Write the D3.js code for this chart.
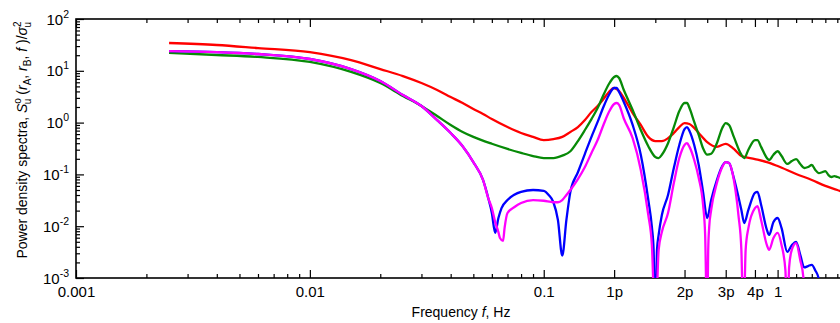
<!DOCTYPE html>
<html>
<head>
<meta charset="utf-8">
<script src="https://cdn.jsdelivr.net/npm/d3@7"></script>
<style>
  body { margin: 0; background: #fff; }
  svg { display: block; font-family: "Liberation Sans", Arial, sans-serif; }
</style>
</head>
<body>
<div id="chart"></div>
<script>
// spectra (frequency in Hz, normalised PSD)
var freqRed = [0.0025, 0.004, 0.006, 0.01, 0.015, 0.02, 0.025, 0.03, 0.035, 0.04, 0.045, 0.05, 0.055, 0.06, 0.07, 0.08, 0.09, 0.1, 0.11, 0.12, 0.13, 0.14, 0.15, 0.16, 0.17, 0.18, 0.19, 0.2, 0.21, 0.22, 0.24, 0.26, 0.28, 0.3, 0.32, 0.34, 0.36, 0.38, 0.4, 0.42, 0.44, 0.46, 0.5, 0.55, 0.6, 0.65, 0.7, 0.8, 0.9, 1.0, 1.2, 1.4, 1.6, 1.8, 2.0];
var psdRed = [34.4, 31.5, 27.5, 23, 16.1, 10.8, 7.9, 5.8, 4.26, 3.12, 2.39, 1.83, 1.47, 1.17, 0.82, 0.63, 0.53, 0.46, 0.48, 0.53, 0.66, 0.82, 1.12, 1.6, 2.09, 2.85, 3.9, 4.66, 4.07, 3.0, 1.53, 0.9, 0.53, 0.44, 0.44, 0.5, 0.63, 0.82, 0.98, 0.94, 0.79, 0.63, 0.42, 0.34, 0.39, 0.31, 0.226, 0.198, 0.173, 0.145, 0.102, 0.078, 0.06, 0.05, 0.042];

var freqGreen = [0.0025, 0.004, 0.006, 0.01, 0.015, 0.02, 0.025, 0.03, 0.035, 0.04, 0.045, 0.05, 0.06, 0.07, 0.08, 0.09, 0.1, 0.11, 0.12, 0.13, 0.14, 0.15, 0.16, 0.17, 0.18, 0.19, 0.2, 0.205, 0.21, 0.22, 0.24, 0.26, 0.28, 0.3, 0.31, 0.32, 0.34, 0.36, 0.38, 0.4, 0.41, 0.42, 0.44, 0.46, 0.48, 0.5, 0.52, 0.55, 0.58, 0.6, 0.62, 0.65, 0.7, 0.72, 0.75, 0.8, 0.82, 0.85, 0.9, 0.92, 0.96, 1.0, 1.04, 1.1, 1.15, 1.2, 1.25, 1.3, 1.35, 1.4, 1.45, 1.5, 1.55, 1.6, 1.65, 1.7, 1.75, 1.8, 1.9, 2.0];
var psdGreen = [22.1, 20.2, 18.5, 14.8, 9.5, 5.8, 3.27, 2.09, 1.34, 0.9, 0.66, 0.53, 0.39, 0.31, 0.26, 0.226, 0.207, 0.207, 0.23, 0.28, 0.44, 0.72, 1.17, 1.91, 3.41, 5.56, 7.59, 7.94, 7.26, 4.26, 1.75, 0.72, 0.35, 0.217, 0.207, 0.24, 0.4, 0.82, 1.67, 2.39, 2.39, 1.91, 1.03, 0.58, 0.32, 0.24, 0.25, 0.4, 0.79, 0.98, 0.9, 0.53, 0.24, 0.207, 0.3, 0.46, 0.46, 0.34, 0.207, 0.19, 0.24, 0.28, 0.226, 0.159, 0.181, 0.198, 0.159, 0.133, 0.139, 0.152, 0.122, 0.106, 0.11, 0.116, 0.097, 0.089, 0.093, 0.089, 0.082, 0.075];

var freqBlue = [0.0025, 0.004, 0.006, 0.01, 0.015, 0.02, 0.025, 0.03, 0.035, 0.04, 0.045, 0.05, 0.055, 0.058, 0.06, 0.062, 0.064, 0.066, 0.07, 0.08, 0.09, 0.1, 0.105, 0.11, 0.115, 0.12, 0.125, 0.13, 0.14, 0.15, 0.16, 0.17, 0.18, 0.19, 0.2, 0.205, 0.21, 0.22, 0.24, 0.26, 0.28, 0.29, 0.295, 0.3, 0.305, 0.31, 0.32, 0.34, 0.36, 0.38, 0.4, 0.41, 0.42, 0.44, 0.46, 0.48, 0.5, 0.52, 0.55, 0.58, 0.6, 0.62, 0.65, 0.7, 0.72, 0.75, 0.8, 0.82, 0.85, 0.9, 0.92, 0.96, 1.0, 1.04, 1.1, 1.15, 1.2, 1.25, 1.3, 1.35, 1.4, 1.45, 1.5, 1.55];
var psdBlue = [24, 23, 21.1, 16.9, 10.8, 6.36, 3.41, 2.09, 1.12, 0.63, 0.35, 0.173, 0.078, 0.034, 0.018, 0.0074, 0.0144, 0.0224, 0.032, 0.046, 0.05, 0.048, 0.04, 0.029, 0.0132, 0.0027, 0.0132, 0.046, 0.11, 0.25, 0.53, 1.03, 2.0, 3.41, 4.66, 4.66, 3.9, 2.5, 0.9, 0.24, 0.032, 0.0097, 0.0035, 0.0001, 0.0035, 0.0068, 0.0164, 0.04, 0.133, 0.37, 0.75, 0.82, 0.69, 0.37, 0.152, 0.046, 0.0144, 0.032, 0.078, 0.145, 0.173, 0.166, 0.085, 0.0206, 0.0115, 0.0206, 0.044, 0.046, 0.026, 0.0085, 0.0068, 0.012, 0.0144, 0.0092, 0.0032, 0.0043, 0.005, 0.0028, 0.0016, 0.0017, 0.0018, 0.0014, 0.00096, 0.0001];

var freqMagenta = [0.0025, 0.004, 0.006, 0.01, 0.015, 0.02, 0.025, 0.03, 0.035, 0.04, 0.045, 0.05, 0.055, 0.058, 0.06, 0.062, 0.064, 0.065, 0.067, 0.068, 0.07, 0.075, 0.08, 0.09, 0.1, 0.11, 0.115, 0.12, 0.125, 0.13, 0.14, 0.15, 0.16, 0.17, 0.18, 0.19, 0.2, 0.205, 0.21, 0.22, 0.24, 0.26, 0.28, 0.29, 0.3, 0.31, 0.32, 0.34, 0.36, 0.38, 0.4, 0.41, 0.42, 0.44, 0.46, 0.48, 0.49, 0.5, 0.505, 0.51, 0.52, 0.55, 0.58, 0.6, 0.62, 0.65, 0.68, 0.7, 0.715, 0.73, 0.75, 0.8, 0.82, 0.85, 0.9, 0.92, 0.96, 1.0, 1.04, 1.08, 1.1, 1.12, 1.15, 1.2, 1.25, 1.29, 1.3];
var psdMagenta = [24, 23, 21.1, 16.9, 10.8, 6.36, 3.41, 2.09, 1.12, 0.63, 0.35, 0.173, 0.078, 0.034, 0.0224, 0.012, 0.0077, 0.0059, 0.0052, 0.0092, 0.018, 0.0235, 0.028, 0.032, 0.031, 0.029, 0.029, 0.032, 0.04, 0.05, 0.081, 0.139, 0.26, 0.46, 0.9, 1.6, 2.29, 2.39, 2.19, 1.2, 0.5, 0.122, 0.0164, 0.0043, 0.0001, 0.0035, 0.0077, 0.018, 0.068, 0.207, 0.37, 0.4, 0.34, 0.19, 0.085, 0.026, 0.0068, 0.0001, 0.0035, 0.0097, 0.0206, 0.068, 0.139, 0.173, 0.166, 0.078, 0.0164, 0.0035, 0.0001, 0.0035, 0.0092, 0.0224, 0.0245, 0.0132, 0.0043, 0.0035, 0.0059, 0.0074, 0.0043, 0.0014, 0.0001, 0.0016, 0.0035, 0.0047, 0.0022, 0.001, 0.0001];

// axis ticks
var xLabelVals = [0.001, 0.01, 0.1, 0.2, 0.4, 0.6, 0.8, 1];
var xLabelText = ["0.001", "0.01", "0.1", "1p", "2p", "3p", "4p", "1"];
var xMinorVals = [0.002, 0.003, 0.004, 0.005, 0.006, 0.007, 0.008, 0.009,
                  0.02, 0.03, 0.04, 0.05, 0.06, 0.07, 0.08, 0.09,
                  0.3, 0.5, 0.7, 0.9, 1.2, 1.4, 1.6, 1.8];
var yExponents = [-3, -2, -1, 0, 1, 2];

var margin = { top: 19, left: 76 },
    width = 772,
    height = 259;

var svg = d3.select("#chart")
    .append("svg")
    .attr("width", 840)
    .attr("height", 323);

var x = d3.scaleLog().domain([0.001, 2]).range([0, width]);
var y = d3.scaleLog().domain([1e-3, 1e2]).range([height, 0]);

var g = svg.append("g")
    .attr("transform", "translate(" + margin.left + "," + margin.top + ")");

g.append("clipPath").attr("id", "plotclip")
    .append("rect").attr("width", width).attr("height", height);

// minor y ticks 2..9 in every decade
var yMinorVals = [];
yExponents.slice(0, -1).forEach(function (e) {
    for (var k = 2; k <= 9; k++) yMinorVals.push(k * Math.pow(10, e));
});
var yMajorVals = yExponents.map(function (e) { return Math.pow(10, e); });

function styleAxis(sel) {
    sel.select(".domain").remove();
    sel.selectAll(".tick line").attr("stroke", "#000").attr("stroke-width", 1.2);
}

// bottom axis
g.append("g")
    .attr("transform", "translate(0," + height + ")")
    .call(d3.axisBottom(x).tickValues(xMinorVals).tickSize(-4).tickSizeOuter(0).tickFormat(""))
    .call(styleAxis);
var xb = g.append("g")
    .attr("transform", "translate(0," + height + ")")
    .call(d3.axisBottom(x).tickValues(xLabelVals).tickSize(-8).tickSizeOuter(0).tickPadding(8)
        .tickFormat(function (d, i) { return xLabelText[i]; }))
    .call(styleAxis);
xb.selectAll("text")
    .attr("fill", "#000")
    .style("font-size", "15px")
    .style("font-family", "Liberation Sans, Arial, sans-serif");

// top axis (ticks only)
g.append("g")
    .call(d3.axisTop(x).tickValues(xMinorVals).tickSize(-4).tickSizeOuter(0).tickFormat(""))
    .call(styleAxis);
g.append("g")
    .call(d3.axisTop(x).tickValues(xLabelVals).tickSize(-8).tickSizeOuter(0).tickFormat(""))
    .call(styleAxis);

// left axis
g.append("g")
    .call(d3.axisLeft(y).tickValues(yMinorVals).tickSize(-4).tickSizeOuter(0).tickFormat(""))
    .call(styleAxis);
var yl = g.append("g")
    .call(d3.axisLeft(y).tickValues(yMajorVals).tickSize(-8).tickSizeOuter(0).tickFormat(""))
    .call(styleAxis);
yl.selectAll(".tick").append("text")
    .attr("x", -7)
    .attr("y", 5)
    .attr("text-anchor", "end")
    .attr("fill", "#000")
    .style("font-size", "15px")
    .each(function (d) {
        var t = d3.select(this);
        var e = Math.round(Math.log10(d));
        t.append("tspan").text("10");
        t.append("tspan").attr("dy", -7).style("font-size", "10.5px")
            .text(e < 0 ? "-" + Math.abs(e) : e);
    });

// frame
g.append("rect")
    .attr("width", width)
    .attr("height", height)
    .attr("fill", "none")
    .attr("stroke", "#000")
    .attr("stroke-width", 1.6);

// curves
var series = [
    { f: freqRed, v: psdRed, color: "#ff0000" },
    { f: freqGreen, v: psdGreen, color: "#078a07" },
    { f: freqBlue, v: psdBlue, color: "#0000ff" },
    { f: freqMagenta, v: psdMagenta, color: "#ff00ff" }
];

var line = d3.line()
    .x(function (d) { return x(d[0]); })
    .y(function (d) { return y(d[1]); })
    .curve(d3.curveMonotoneX);

var plot = g.append("g").attr("clip-path", "url(#plotclip)");
series.forEach(function (s) {
    plot.append("path")
        .datum(d3.zip(s.f, s.v))
        .attr("fill", "none")
        .attr("stroke", s.color)
        .attr("stroke-width", 2.3)
        .attr("stroke-linejoin", "round")
        .attr("d", line);
});

// axis titles
var xt = svg.append("text")
    .attr("x", 461)
    .attr("y", 317)
    .attr("text-anchor", "middle")
    .style("font-size", "14px");
xt.append("tspan").text("Frequency ");
xt.append("tspan").style("font-style", "italic").text("f");
xt.append("tspan").text(", Hz");

var yt = svg.append("text")
    .attr("transform", "translate(27,140) rotate(-90)")
    .attr("text-anchor", "middle")
    .style("font-size", "14px");
yt.append("tspan").text("Power density spectra, ");
yt.append("tspan").style("font-style", "italic").text("S");
yt.append("tspan").attr("dy", -6).style("font-size", "10px").text("o");
yt.append("tspan").attr("dx", -6).attr("dy", 10).style("font-size", "10px").text("u");
yt.append("tspan").attr("dy", -4).text(" (");
yt.append("tspan").style("font-style", "italic").text("r");
yt.append("tspan").attr("dy", 4).style("font-size", "10px").text("A");
yt.append("tspan").attr("dy", -4).text(", ");
yt.append("tspan").style("font-style", "italic").text("r");
yt.append("tspan").attr("dy", 4).style("font-size", "10px").text("B");
yt.append("tspan").attr("dy", -4).text(", ");
yt.append("tspan").style("font-style", "italic").text("f");
yt.append("tspan").text(" )/");
yt.append("tspan").style("font-style", "italic").text("σ");
yt.append("tspan").attr("dy", -6).style("font-size", "10px").text("2");
yt.append("tspan").attr("dx", -6).attr("dy", 10).style("font-size", "10px").text("u");
</script>
</body>
</html>
